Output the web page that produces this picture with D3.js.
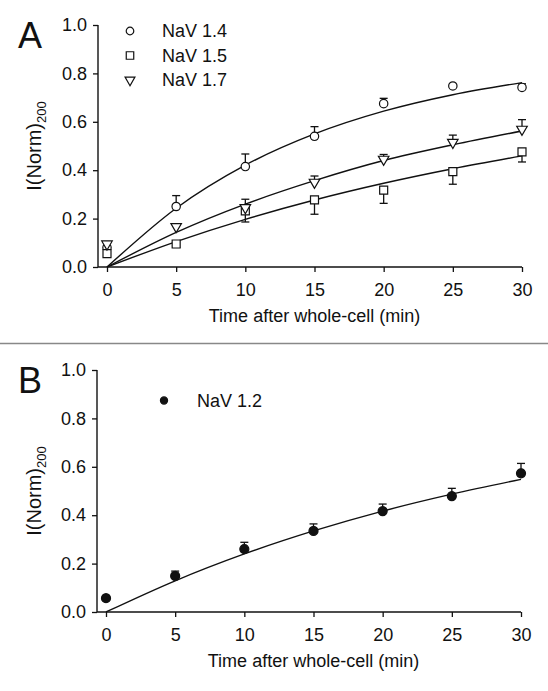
<!DOCTYPE html>
<html>
<head>
<meta charset="utf-8">
<script src="https://cdn.jsdelivr.net/npm/d3@7"></script>
<style>
  html, body { margin: 0; padding: 0; background: #fff; }
  svg { display: block; }
  text { font-family: "Liberation Sans", Arial, sans-serif; fill: #111; }
</style>
</head>
<body>
<svg id="chart" width="548" height="691"></svg>
<script>
// ---------- data ----------
const times = [0, 5, 10, 15, 20, 25, 30];
const xTicks = [0, 5, 10, 15, 20, 25, 30];
const yTicks = [0, 0.2, 0.4, 0.6, 0.8, 1.0];

// Panel A
const nav14Mean = [0.08, 0.25, 0.415, 0.54, 0.675, 0.748, 0.742];
const nav14Err  = [0, 0.045, 0.052, 0.04, 0.022, 0, 0.015];
const nav15Mean = [0.055, 0.095, 0.232, 0.277, 0.318, 0.394, 0.476];
const nav15Err  = [0, 0.014, 0.046, 0.059, 0.055, 0.052, 0.042];
const nav17Mean = [0.095, 0.167, 0.245, 0.35, 0.445, 0.515, 0.569];
const nav17Err  = [0, 0, 0.035, 0.026, 0.02, 0.03, 0.04];
const fit14 = [0, 0.243, 0.421, 0.55, 0.644, 0.712, 0.762];
const fit15 = [0, 0.105, 0.197, 0.277, 0.346, 0.406, 0.459];
const fit17 = [0, 0.143, 0.26, 0.357, 0.44, 0.505, 0.562];

// Panel B
const nav12Mean = [0.057, 0.149, 0.26, 0.335, 0.417, 0.479, 0.573];
const nav12Err  = [0, 0.02, 0.028, 0.029, 0.029, 0.032, 0.041];
const fit12 = [0, 0.129, 0.24, 0.335, 0.417, 0.487, 0.548];

const xTitle = "Time after whole-cell (min)";

// ---------- drawing ----------
const svg = d3.select("#chart");
const INK = "#111";

function panel(cfg) {
  const g = svg.append("g");
  const x = d3.scaleLinear().domain([0, 30]).range([cfg.x0, cfg.x1]);
  const y = d3.scaleLinear().domain([0, 1]).range([cfg.y0, cfg.y1]);

  // x axis
  const xa = g.append("g").attr("transform", `translate(0,${cfg.y0})`)
    .call(d3.axisBottom(x).tickValues(xTicks).tickFormat(d3.format("d")).tickSize(5).tickPadding(11));
  xa.select(".domain").remove();
  xa.selectAll("line").attr("stroke", INK).attr("stroke-width", 1.3);
  xa.selectAll("text").attr("font-size", 18).attr("fill", INK)
    .style("font-family", '"Liberation Sans", Arial, sans-serif');
  g.append("line").attr("x1", cfg.ax).attr("x2", cfg.x1).attr("y1", cfg.y0).attr("y2", cfg.y0)
    .attr("stroke", INK).attr("stroke-width", 1.4);

  // y axis
  const ya = g.append("g").attr("transform", `translate(${cfg.ax},0)`)
    .call(d3.axisLeft(y).tickValues(yTicks).tickFormat(d3.format(".1f")).tickSize(5).tickPadding(6));
  ya.select(".domain").remove();
  ya.selectAll("line").attr("stroke", INK).attr("stroke-width", 1.3);
  ya.selectAll("text").attr("font-size", 18).attr("fill", INK)
    .style("font-family", '"Liberation Sans", Arial, sans-serif');
  g.append("line").attr("x1", cfg.ax).attr("x2", cfg.ax).attr("y1", cfg.y1).attr("y2", cfg.y0)
    .attr("stroke", INK).attr("stroke-width", 1.4);

  // axis titles
  g.append("text").attr("x", (cfg.x0 + cfg.x1) / 2).attr("y", cfg.y0 + 55)
    .attr("text-anchor", "middle").attr("font-size", 18).text(xTitle);
  const yl = g.append("text")
    .attr("transform", `translate(${cfg.ylx},${(cfg.y0 + cfg.y1) / 2}) rotate(-90)`)
    .attr("text-anchor", "middle").attr("font-size", 20);
  yl.append("tspan").text("I(Norm)");
  yl.append("tspan").attr("font-size", 13).attr("dy", 5).text("200");

  // panel letter
  g.append("text").attr("x", 18).attr("y", cfg.y1 + 23).attr("font-size", 36).text(cfg.letter);

  const line = d3.line().x((d, i) => x(times[i])).y(d => y(d)).curve(d3.curveMonotoneX);

  cfg.series.forEach(s => {
    // fit
    g.append("path").attr("d", line(s.fit)).attr("fill", "none")
      .attr("stroke", INK).attr("stroke-width", 1.4);
    // error bars
    const eg = g.append("g").attr("stroke", INK).attr("stroke-width", 1.3);
    s.mean.forEach((m, i) => {
      const e = s.err[i];
      if (!e) return;
      const yEnd = y(m + s.dir * e);
      eg.append("line").attr("x1", x(times[i])).attr("x2", x(times[i]))
        .attr("y1", y(m)).attr("y2", yEnd);
      eg.append("line").attr("x1", x(times[i]) - 4).attr("x2", x(times[i]) + 4)
        .attr("y1", yEnd).attr("y2", yEnd);
    });
    // markers
    g.append("g").selectAll("path").data(s.mean).join("path")
      .attr("d", d3.symbol().type(s.symbol).size(s.size)())
      .attr("transform", (d, i) => `translate(${x(times[i])},${y(d)}) rotate(${s.rot || 0})`)
      .attr("fill", s.filled ? INK : "#fff")
      .attr("stroke", INK).attr("stroke-width", 1.2);
  });

  // legend
  cfg.series.forEach((s, i) => {
    const ly = cfg.legY + i * 24.5;
    g.append("path").attr("d", d3.symbol().type(s.symbol).size(s.legSize || s.size)())
      .attr("transform", `translate(${cfg.legX},${ly}) rotate(${s.rot || 0})`)
      .attr("fill", s.filled ? INK : "#fff").attr("stroke", INK).attr("stroke-width", 1.2);
    g.append("text").attr("x", cfg.legX + cfg.legGap).attr("y", ly).attr("dy", "0.35em")
      .attr("font-size", 18).text(s.name);
  });
}

panel({
  letter: "A", x0: 107, x1: 522, y0: 267, y1: 25, ax: 98, ylx: 41,
  legX: 130, legY: 31, legGap: 32,
  series: [
    { name: "NaV 1.4", mean: nav14Mean, err: nav14Err, dir: 1, fit: fit14, symbol: d3.symbolCircle, size: 55, legSize: 45 },
    { name: "NaV 1.5", mean: nav15Mean, err: nav15Err, dir: -1, fit: fit15, symbol: d3.symbolSquare, size: 64, legSize: 56 },
    { name: "NaV 1.7", mean: nav17Mean, err: nav17Err, dir: 1, fit: fit17, symbol: d3.symbolTriangle, size: 48, rot: 180, legSize: 42 }
  ]
});

// separator
svg.append("line").attr("x1", 0).attr("x2", 548).attr("y1", 343.5).attr("y2", 343.5)
  .attr("stroke", "#888").attr("stroke-width", 1.5);

panel({
  letter: "B", x0: 106, x1: 521, y0: 612, y1: 370, ax: 97, ylx: 41,
  legX: 164, legY: 400.5, legGap: 33,
  series: [
    { name: "NaV 1.2", mean: nav12Mean, err: nav12Err, dir: 1, fit: fit12, symbol: d3.symbolCircle, size: 64, filled: true, legSize: 40 }
  ]
});
</script>
</body>
</html>
